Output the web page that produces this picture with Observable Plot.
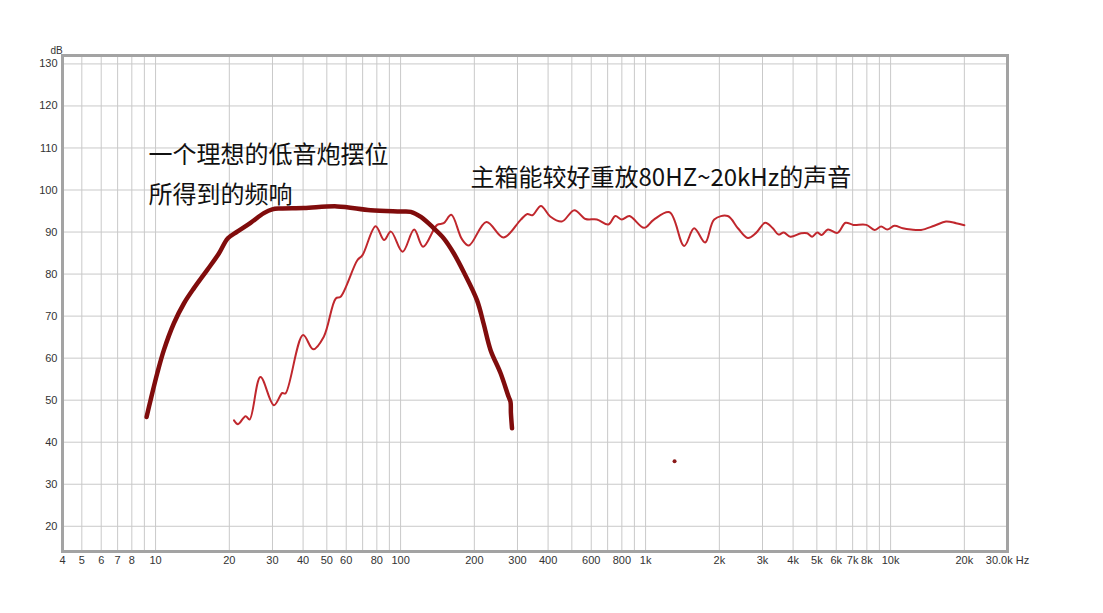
<!DOCTYPE html>
<html>
<head>
<meta charset="utf-8">
<script src="https://cdn.jsdelivr.net/npm/d3@7"></script>
<script src="https://cdn.jsdelivr.net/npm/@observablehq/plot@0.6"></script>
<style>
  html, body { margin: 0; padding: 0; background: #fff; }
  #chart { width: 1103px; height: 613px; }
</style>
</head>
<body>
<div id="chart"></div>
<script>
// ---- data ----
const subFreq = [9.19, 9.54, 10.16, 10.81, 11.88, 13.05, 14.33, 16.26, 18.13, 19.73, 21.55, 24.42, 27.67, 29.95, 32.37, 40.3, 55.1, 75.5, 100, 110, 121, 136.6, 150, 165, 181, 205, 218, 233, 256, 276, 281, 282, 285];
const subDb   = [46.0, 50.0, 56.4, 61.9, 68.3, 73.0, 76.6, 81.0, 84.9, 88.5, 90.1, 92.2, 94.5, 95.4, 95.6, 95.7, 96.1, 95.2, 94.9, 94.8, 93.6, 90.9, 88.5, 84.9, 80.5, 73.8, 68.3, 61.9, 56.4, 50.8, 49.6, 47.0, 43.3];

const mainFreq = [20.9, 21.7, 23.3, 24.2, 26.8, 30.4, 32.9, 33.9, 40.0, 44.0, 48.6, 54.4, 56.9, 66.6, 69.9, 79.1, 85.6, 91.3, 101.9, 113.6, 123.6, 141, 150, 161, 178, 190, 224, 263, 309, 329, 345, 374, 408, 455, 512, 569, 633, 705, 752, 800, 859, 986, 1078, 1253, 1437, 1578, 1750, 1906, 2164, 2381, 2613, 2825, 3076, 3305, 3485, 3664, 3899, 4312, 4567, 4783, 5015, 5240, 5547, 6068, 6546, 7040, 7959, 8600, 9150, 9690, 10370, 11210, 12120, 13310, 15070, 16830, 18500, 20000];
const mainDb   = [45.2, 44.3, 46.2, 45.4, 55.5, 48.8, 51.7, 51.6, 65.5, 62.1, 65.1, 74.2, 74.6, 83.3, 84.5, 91.4, 88.1, 90.1, 85.3, 90.6, 86.5, 91.7, 92.1, 94.1, 88.3, 86.8, 92.4, 88.7, 92.9, 94.3, 94.0, 96.2, 93.7, 92.5, 95.2, 93.1, 93.0, 91.8, 93.8, 93.0, 93.8, 91.0, 92.9, 94.7, 86.7, 90.9, 87.5, 93.0, 93.8, 90.9, 88.6, 89.8, 92.2, 90.9, 89.4, 89.9, 88.9, 89.7, 89.7, 88.9, 89.9, 89.3, 90.6, 89.8, 92.2, 91.7, 91.7, 90.5, 91.3, 90.6, 91.5, 90.9, 90.6, 90.5, 91.5, 92.5, 92.1, 91.6];

const strayFreq = [1313];
const strayDb = [35.5];

const xDomain = [4.17, 30000];
const yDomain = [14, 132];

const xTickValues = [4.17, 5, 6, 7, 8, 10, 20, 30, 40, 50, 60, 80, 100, 200, 300, 400, 600, 800, 1000, 2000, 3000, 4000, 5000, 6000, 7000, 8000, 10000, 20000, 30000];
const xTickLabels = ["4", "5", "6", "7", "8", "10", "20", "30", "40", "50", "60", "80", "100", "200", "300", "400", "600", "800", "1k", "2k", "3k", "4k", "5k", "6k", "7k", "8k", "10k", "20k", "30.0k Hz"];
const xGridValues = [5, 6, 7, 8, 9, 10, 20, 30, 40, 50, 60, 70, 80, 90, 100, 200, 300, 400, 500, 600, 700, 800, 900, 1000, 2000, 3000, 4000, 5000, 6000, 7000, 8000, 9000, 10000, 20000];
const yTickValues = [20, 30, 40, 50, 60, 70, 80, 90, 100, 110, 120, 130];

const annoText = ["一个理想的低音炮摆位", "所得到的频响", "主箱能较好重放80HZ~20kHz的声音"];
const annoFreq = [9.36, 9.36, 193];
const annoDb   = [108.3, 98.8, 102.9];

// ---- build tables ----
const sub = subFreq.map((f, i) => ({f, db: subDb[i]}));
const main = mainFreq.map((f, i) => ({f, db: mainDb[i]}));
const stray = strayFreq.map((f, i) => ({f, db: strayDb[i]}));
const annos = annoText.map((t, i) => ({t, f: annoFreq[i], db: annoDb[i]}));
const xTicks = xTickValues.map((v, i) => ({v, label: xTickLabels[i]}));

const chart = Plot.plot({
  width: 1103,
  height: 613,
  marginLeft: 62,
  marginRight: 96,
  marginTop: 55,
  marginBottom: 62,
  style: {fontFamily: "'Liberation Sans', Arial, sans-serif", fontSize: "11px", color: "#333", background: "#fff"},
  x: {type: "log", domain: xDomain, axis: null},
  y: {domain: yDomain, axis: null},
  marks: [
    Plot.ruleX(xGridValues, {stroke: "#c9c9c9", strokeWidth: 1}),
    Plot.ruleY(yTickValues, {stroke: "#c9c9c9", strokeWidth: 1}),
    Plot.frame({stroke: "#a3a3a3", strokeWidth: 3}),
    Plot.text(xTicks, {x: "v", text: "label", frameAnchor: "bottom", dy: 12, fontSize: 11, fill: "#333"}),
    Plot.text(yTickValues, {y: d => d, text: d => String(d), frameAnchor: "left", dx: -5, textAnchor: "end", fontSize: 11, fill: "#333"}),
    Plot.text(["dB"], {frameAnchor: "top-left", dx: -12, dy: -9, fontSize: 10, fill: "#333"}),
    Plot.line(main, {x: "f", y: "db", stroke: "#c0272d", strokeWidth: 2, curve: "catmull-rom"}),
    Plot.line(sub, {x: "f", y: "db", stroke: "#800c0c", strokeWidth: 4.5, curve: "catmull-rom", strokeLinecap: "round", strokeLinejoin: "round"}),
    Plot.dot(stray, {x: "f", y: "db", r: 2, fill: "#8b1a1a", stroke: null}),
    Plot.text(annos, {x: "f", y: "db", text: "t", textAnchor: "start", fontSize: 24, fill: "#111", fontFamily: "'Noto Sans CJK SC', 'Noto Sans', sans-serif"})
  ]
});
document.getElementById("chart").appendChild(chart);
</script>
</body>
</html>
